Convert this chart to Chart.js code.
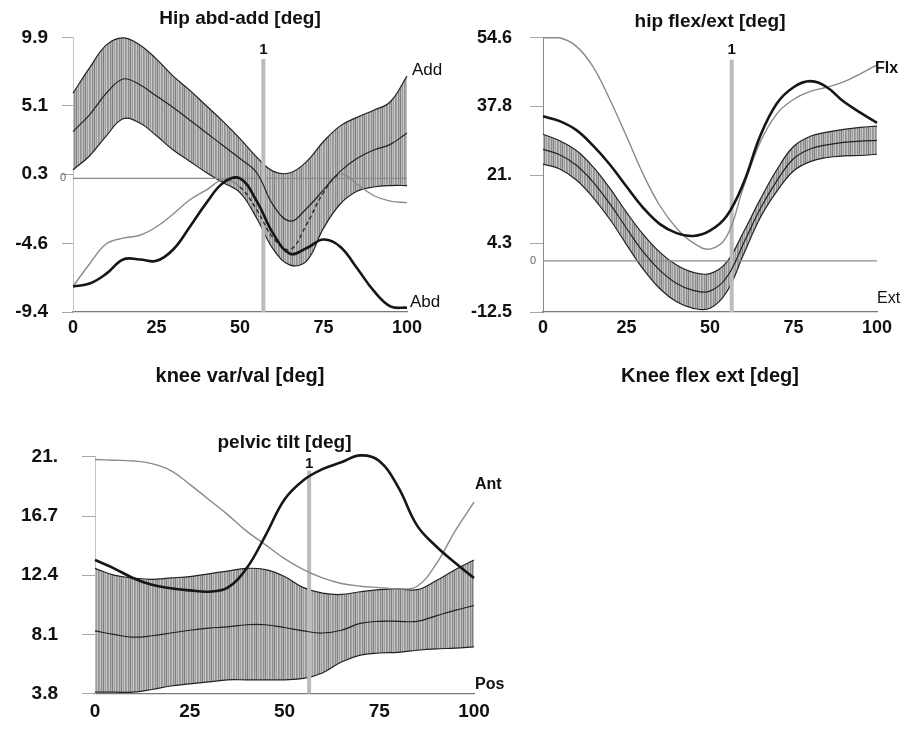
<!DOCTYPE html>
<html>
<head>
<meta charset="utf-8">
<script src="https://cdn.jsdelivr.net/npm/chart.js@4.4.1/dist/chart.umd.min.js"></script>
<style>
  body { margin: 0; background: #fff; }
  canvas { position: absolute; }
</style>
</head>
<body>
<canvas id="hipAbd" width="450" height="400" style="left:0;top:0"></canvas>
<canvas id="hipFlex" width="454" height="400" style="left:450px;top:0"></canvas>
<canvas id="pelvis" width="520" height="329" style="left:0;top:400px"></canvas>
<script>
// % of gait cycle (x axis, shared by all panels)
var cycle = [0, 5, 10, 15, 20, 25, 30, 35, 40, 45, 50, 55, 60, 65, 70, 75, 80, 85, 90, 95, 100];
var xTicks = [0, 25, 50, 75, 100];

// Hip abd-add
var abdUpper = [6.0, 7.8, 9.4, 9.9, 9.4, 8.4, 7.2, 6.2, 5.1, 4.0, 2.8, 1.5, 0.5, 0.4, 1.2, 2.6, 3.7, 4.3, 4.8, 5.4, 7.2];
var abdMean  = [3.3, 4.5, 6.0, 7.0, 6.6, 5.8, 5.0, 4.1, 3.2, 2.3, 1.4, 0.4, -1.9, -3.0, -2.1, -0.8, 0.5, 1.4, 2.0, 2.4, 3.2];
var abdLower = [0.6, 1.6, 3.0, 4.2, 3.9, 3.0, 2.0, 1.2, 0.4, -0.3, -1.0, -2.8, -5.0, -6.1, -5.8, -3.5, -1.8, -0.9, -0.6, -0.5, -0.5];
var abdGray  = [-7.6, -6.0, -4.6, -4.2, -4.0, -3.4, -2.5, -1.5, -0.8, -0.1, -0.6, -2.2, -4.2, -5.0, -3.2, -1.0, 0.3, -0.4, -1.2, -1.6, -1.7];
var abdBlack = [-7.6, -7.4, -6.7, -5.7, -5.7, -5.8, -5.0, -3.4, -1.7, -0.3, 0.0, -1.6, -3.9, -5.3, -4.9, -4.3, -4.8, -6.3, -7.9, -9.0, -9.1];
var abdTicks = [-9.4, -4.6, 0.3, 5.1, 9.9];
var abdTickLabels = ['-9.4', '-4.6', '0.3', '5.1', '9.9'];
var abdEvent = [57, 8.4];   // x, top of marker

// Hip flex/ext
var flexUpper = [31, 29.4, 27, 23, 17.8, 11.9, 6.5, 2.1, -1.0, -2.8, -3.1, -0.3, 7.0, 15, 22.3, 28.0, 30.5, 31.5, 32.2, 32.7, 33.0];
var flexMean  = [27.3, 26, 23.4, 19.3, 14, 8, 2.2, -2.3, -5.5, -7.2, -7.4, -4, 4.2, 12.7, 19.6, 25, 27.4, 28.4, 29, 29.3, 29.5];
var flexLower = [23.7, 22.5, 19.8, 15.5, 10.2, 4.0, -2.0, -6.8, -10.0, -11.6, -11.6, -7.6, 1.5, 10.5, 17.0, 22.0, 24.3, 25.3, 25.7, 25.8, 26.1];
var flexGray  = [54.6, 54.6, 52.5, 47.5, 39.5, 30.5, 21.2, 13.5, 8.0, 4.4, 2.9, 6.0, 18.0, 29.0, 36.0, 39.5, 41.5, 42.5, 43.8, 45.8, 48.0];
var flexBlack = [35.4, 34.2, 32.0, 28.2, 23.6, 18.2, 13.0, 9.0, 6.8, 6.1, 7.4, 11.0, 19.0, 30.5, 38.5, 42.5, 44.0, 42.5, 39.0, 36.3, 33.8];
var flexTicks = [-12.5, 4.3, 21, 37.8, 54.6];
var flexTickLabels = ['-12.5', '4.3', '21.', '37.8', '54.6'];
var flexEvent = [56.5, 49.2];

// Pelvic tilt
var pelvUpper = [12.9, 12.4, 12.2, 12.1, 12.2, 12.3, 12.5, 12.7, 12.9, 12.8, 12.3, 11.5, 11.1, 11.0, 11.2, 11.35, 11.4, 11.35, 12.0, 12.8, 13.5];
var pelvMean  = [8.35, 8.1, 7.9, 8.0, 8.2, 8.4, 8.55, 8.65, 8.8, 8.8, 8.6, 8.35, 8.2, 8.4, 8.9, 9.05, 9.05, 9.05, 9.45, 9.85, 10.2];
var pelvLower = [3.9, 3.9, 3.9, 4.1, 4.35, 4.5, 4.65, 4.8, 4.8, 4.8, 4.8, 4.9, 5.3, 6.1, 6.6, 6.75, 6.8, 6.95, 7.05, 7.1, 7.2];
var pelvGray  = [20.8, 20.75, 20.7, 20.5, 20, 19, 17.9, 16.8, 15.6, 14.6, 13.6, 12.8, 12.2, 11.8, 11.6, 11.5, 11.4, 11.6, 13.2, 15.6, 17.7];
var pelvBlack = [13.5, 12.9, 12.2, 11.7, 11.45, 11.3, 11.2, 11.5, 12.9, 15.3, 17.9, 19.3, 20.1, 20.6, 21.1, 20.7, 18.8, 16.0, 14.5, 13.3, 12.2];
var pelvTicks = [3.8, 8.1, 12.4, 16.7, 21];
var pelvTickLabels = ['3.8', '8.1', '12.4', '16.7', '21.'];
var pelvEvent = [56.5, 20.0];

Chart.defaults.font.family = '"Liberation Sans", Arial, sans-serif';
Chart.defaults.color = '#111';

// vertical hatch used inside the normal bands
function hatch() {
  var c = document.createElement('canvas');
  c.width = 9; c.height = 1;
  var g = c.getContext('2d');
  ['#a2a2a2', '#c4c4c4', '#8c8c8c', '#b4b4b4', '#7e7e7e', '#bdbdbd', '#9c9c9c', '#cacaca', '#939393'].forEach(function (s, i) {
    g.fillStyle = s; g.fillRect(i, 0, 1, 1);
  });
  return g.createPattern(c, 'repeat');
}

function pts(ys) {
  return cycle.map(function (x, i) { return { x: x, y: ys[i] }; });
}

function line(data, color, width, extra) {
  return Object.assign({
    data: data, borderColor: color, borderWidth: width, pointRadius: 0,
    tension: 0.4, fill: false, clip: false
  }, extra || {});
}

// labels placed next to the curves
function notes(items) {
  return {
    id: 'notes',
    afterDatasetsDraw: function (chart) {
      var ctx = chart.ctx, sx = chart.scales.x, sy = chart.scales.y;
      ctx.save();
      items.forEach(function (n) {
        ctx.font = n.font;
        ctx.fillStyle = n.color || '#111';
        ctx.textAlign = n.align || 'left';
        ctx.textBaseline = 'middle';
        ctx.fillText(n.text, sx.getPixelForValue(n.x) + (n.dx || 0), sy.getPixelForValue(n.y) + (n.dy || 0));
      });
      ctx.restore();
    }
  };
}

function panel(id, p) {
  var min = p.ticks[0], max = p.ticks[p.ticks.length - 1];
  var grayExtra = {};
  if (p.hidden) {
    // where the thin curve runs inside the band it shows as a dark dashed line
    grayExtra.segment = {
      borderColor: function (c) { var x = c.p0.parsed.x; return x >= p.hidden[0] && x < p.hidden[1] ? '#2a2a2a' : undefined; },
      borderDash: function (c) { var x = c.p0.parsed.x; return x >= p.hidden[0] && x < p.hidden[1] ? [4, 3] : undefined; }
    };
  }
  var sets = [
    line(pts(p.black), '#161616', 2.6),
    line(pts(p.gray), '#8a8a8a', 1.4, grayExtra),
    line(pts(p.mean), '#222', 1.2),
    line([{ x: p.event[0], y: min }, { x: p.event[0], y: p.event[1] }], '#bcbcbc', 4)
  ];
  if (p.zero) sets.push(line([{ x: 0, y: 0 }, { x: 100, y: 0 }], '#8c8c8c', 1.2));
  sets.push(line(pts(p.lower), '#222', 1.2));
  sets.push(line(pts(p.upper), '#222', 1.2, { fill: '-1', backgroundColor: hatch() }));

  return new Chart(document.getElementById(id), {
    type: 'line',
    data: { datasets: sets },
    plugins: [notes(p.notes)],
    options: {
      responsive: false,
      animation: false,
      devicePixelRatio: 1,
      layout: { padding: { left: 0, right: p.right, top: 0, bottom: 0 } },
      plugins: {
        legend: { display: false },
        tooltip: { enabled: false },
        title: {
          display: true, text: p.title, fullSize: false,
          font: { size: 19, weight: 'bold' }, color: '#111',
          padding: p.titlePad
        }
      },
      scales: {
        x: {
          type: 'linear', min: 0, max: 100,
          afterBuildTicks: function (s) { s.ticks = xTicks.map(function (v) { return { value: v }; }); },
          afterFit: function (s) { s.height = p.xHeight; },
          grid: { display: false, drawTicks: false },
          border: { display: true, color: '#7a7a7a', width: 1.2 },
          ticks: { font: { size: p.tickSize, weight: 'bold' }, color: '#111', padding: p.xPad, maxRotation: 0 },
          title: {
            display: !!p.xTitle, text: p.xTitle, color: '#111',
            font: { size: 20, weight: 'bold' }, padding: { top: 0, bottom: 12 }
          }
        },
        y: {
          min: min, max: max,
          afterBuildTicks: function (s) { s.ticks = p.ticks.map(function (v) { return { value: v }; }); },
          afterFit: function (s) { s.width = p.yWidth; },
          grid: { drawOnChartArea: false, drawTicks: true, tickLength: p.tickLen, color: '#a8a8a8' },
          border: { display: true, color: p.axisColor },
          ticks: {
            font: { size: p.yTickSize || p.tickSize, weight: 'bold' }, color: '#111', padding: p.yPad,
            callback: function (v, i) { return p.labels[i]; }
          }
        }
      }
    }
  });
}

panel('hipAbd', {
  title: 'Hip abd-add [deg]', xTitle: 'knee var/val [deg]',
  upper: abdUpper, mean: abdMean, lower: abdLower, gray: abdGray, black: abdBlack,
  ticks: abdTicks, labels: abdTickLabels, event: abdEvent, zero: true, hidden: [50, 80],
  right: 43, yWidth: 73, xHeight: 88, tickLen: 11, yPad: 14, xPad: 5, tickSize: 18, yTickSize: 19,
  titlePad: { top: 7, bottom: 8 }, axisColor: '#c4c4c4',
  notes: [
    { text: 'Add', x: 100, y: 7.2, dx: 5, dy: -6, font: '17px "Liberation Sans", Arial' },
    { text: 'Abd', x: 100, y: -9.4, dx: 3, dy: -10, font: '17px "Liberation Sans", Arial' },
    { text: '1', x: abdEvent[0], y: abdEvent[1], dy: -9, align: 'center', font: 'bold 15px "Liberation Sans", Arial' },
    { text: '0', x: 0, y: 0, dx: -10, align: 'center', color: '#666', font: '11px "Liberation Sans", Arial' }
  ]
});

panel('hipFlex', {
  title: 'hip flex/ext [deg]', xTitle: 'Knee flex ext [deg]',
  upper: flexUpper, mean: flexMean, lower: flexLower, gray: flexGray, black: flexBlack,
  ticks: flexTicks, labels: flexTickLabels, event: flexEvent, zero: true,
  right: 27, yWidth: 93, xHeight: 88, tickLen: 13, yPad: 18, xPad: 5, tickSize: 18,
  titlePad: { top: 10, bottom: 5 }, axisColor: '#8a8a8a',
  notes: [
    { text: 'Flx', x: 100, y: 48, dx: -2, dy: 4, font: 'bold 16px "Liberation Sans", Arial' },
    { text: 'Ext', x: 100, y: -12.5, dx: 0, dy: -13, font: '16px "Liberation Sans", Arial' },
    { text: '1', x: flexEvent[0], y: flexEvent[1], dy: -10, align: 'center', font: 'bold 15px "Liberation Sans", Arial' },
    { text: '0', x: 0, y: 0, dx: -10, align: 'center', color: '#666', font: '11px "Liberation Sans", Arial' }
  ]
});

panel('pelvis', {
  title: 'pelvic tilt [deg]', xTitle: '',
  upper: pelvUpper, mean: pelvMean, lower: pelvLower, gray: pelvGray, black: pelvBlack,
  ticks: pelvTicks, labels: pelvTickLabels, event: pelvEvent, zero: false,
  right: 46, yWidth: 95, xHeight: 27, tickLen: 13, yPad: 24, xPad: 7, tickSize: 19,
  titlePad: { top: 31, bottom: 3 }, axisColor: '#c4c4c4',
  notes: [
    { text: 'Ant', x: 100, y: 21, dx: 1, dy: 28, font: 'bold 16px "Liberation Sans", Arial' },
    { text: 'Pos', x: 100, y: 3.8, dx: 1, dy: -9, font: 'bold 16px "Liberation Sans", Arial' },
    { text: '1', x: pelvEvent[0], y: pelvEvent[1], dy: -7, align: 'center', font: 'bold 15px "Liberation Sans", Arial' }
  ]
});
</script>
</body>
</html>
